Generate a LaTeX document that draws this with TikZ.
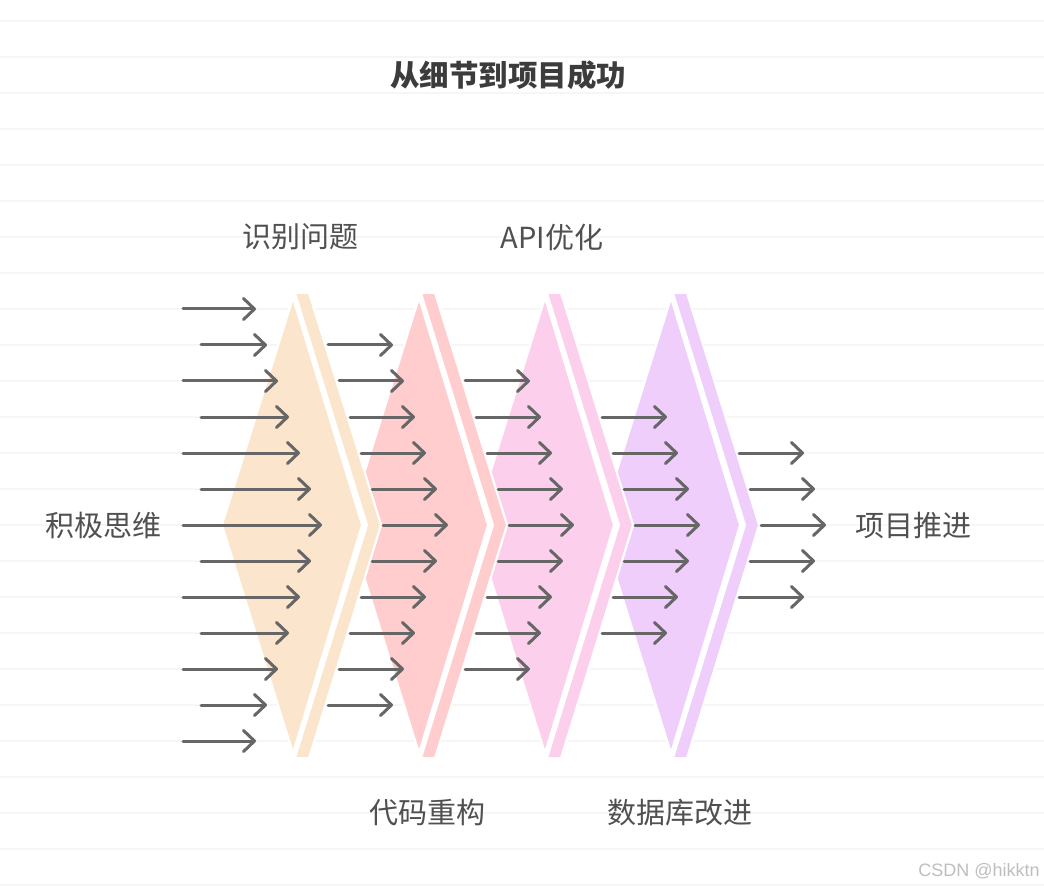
\documentclass[tikz,border=0pt]{standalone}
\usepackage{fontspec}
\setmainfont{Noto Sans CJK SC}
\newfontfamily\wmfont{Liberation Sans}
\usetikzlibrary{arrows.meta}
\definecolor{cA}{RGB}{252,229,205}
\definecolor{cB}{RGB}{255,205,205}
\definecolor{cC}{RGB}{252,208,236}
\definecolor{cD}{RGB}{239,206,252}
\definecolor{arrgray}{RGB}{102,102,102}
\definecolor{bgl}{RGB}{246,246,246}
\definecolor{labc}{RGB}{80,80,80}
\definecolor{titc}{RGB}{60,60,60}
\definecolor{wmc}{RGB}{190,190,190}
\tikzset{
  bgline/.style={draw=bgl,line width=2pt},
  chevpart/.style={draw=white,line width=2pt,line join=bevel},
  chevback/.style={fill=white,draw=white,line width=2pt,line join=bevel},
  arr/.style={draw=arrgray,line width=3pt,line cap=round,-{Straight Barb[length=11pt,width=21pt,round]}},
  lab/.style={inner sep=0pt,text=labc,font=\fontsize{29}{32}\selectfont},
  ttl/.style={inner sep=0pt,text=titc,font=\bfseries\fontsize{29.5}{33}\selectfont},
  wm/.style={inner sep=0pt,text=wmc,font=\wmfont\fontsize{18}{20}\selectfont}
}
\newcommand\chevshape[2]{%
  \path[chevback] (222+#1,525) -- (293+#1,297) -- (295+#1,293) -- (309+#1,293) -- (381+#1,525) -- (309+#1,758) -- (295+#1,758) -- (293+#1,754) -- cycle;
  \fill[#2,chevpart] (295+#1,293) -- (309+#1,293) -- (381+#1,525) -- (309+#1,758) -- (295+#1,758) -- (367+#1,525) -- cycle;
  \fill[#2,chevpart] (222+#1,525) -- (293+#1,298) -- (362+#1,525) -- (293+#1,753) -- cycle;
}
\begin{document}
\begin{tikzpicture}[x=1pt,y=-1pt]
\useasboundingbox (0,0) rectangle (1044,890);
\fill[white] (0,0) rectangle (1044,890);
\foreach \k in {0,...,24} \draw[bgline] (0,21+36*\k) -- (1044,21+36*\k);
% chevrons, right to left so the left ones lie on top
\chevshape{378}{cD}
\chevshape{252}{cC}
\chevshape{126}{cB}
\chevshape{0}{cA}
% arrows, first column
\foreach \r in {0,...,12}{
  \pgfmathsetmacro\sx{ifthenelse(mod(\r,2)==0,183,201)}
  \pgfmathsetmacro\ex{322-11*abs(\r-6)}
  \coordinate (s1-\r) at (\sx,309+36*\r);
  \coordinate (e1-\r) at (\ex,309+36*\r);
  \draw[arr] (s1-\r) -- (e1-\r);
}
% further columns
\foreach \g in {2,...,5}{
  \pgfmathtruncatemacro\m{7-\g}
  \foreach \d in {-\m,...,\m}{
    \pgfmathsetmacro\sx{383+126*(\g-2)-11*abs(\d)}
    \coordinate (s\g-\d) at (\sx,525+36*\d);
    \coordinate (e\g-\d) at (\sx+65,525+36*\d);
    \draw[arr] (s\g-\d) -- (e\g-\d);
  }
}
% labels
\node[ttl] (title) at (508,75) {从细节到项目成功};
\node[lab] (l1) at (300,237) {识别问题};
\node[lab] (l2) at (552,237) {API优化};
\node[lab] (l3) at (103,525) {积极思维};
\node[lab] (l4) at (913,525) {项目推进};
\node[lab] (l5) at (427,813) {代码重构};
\node[lab] (l6) at (680,813) {数据库改进};
\node[wm] (wm) at (979,871) {CSDN @hikktn};
\end{tikzpicture}
\end{document}
